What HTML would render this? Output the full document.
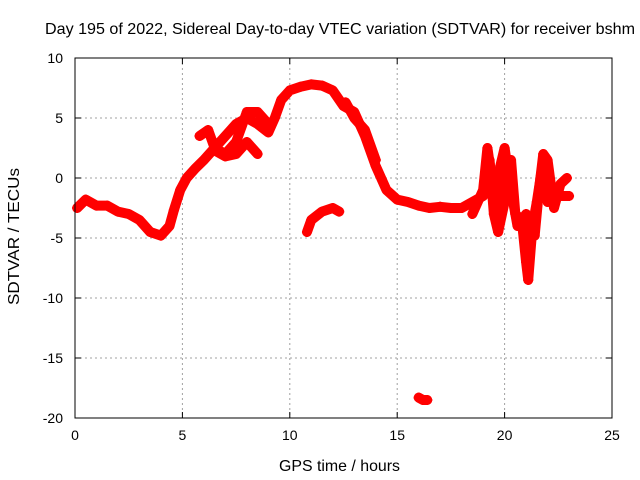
<!DOCTYPE html>
<html><head><meta charset="utf-8"><style>
body{margin:0;background:#fff;}
svg{display:block;font-family:"Liberation Sans",sans-serif;}
</style></head><body>
<svg id="chart" width="640" height="480">
<text x="45" y="34" textLength="590" lengthAdjust="spacingAndGlyphs" font-size="16">Day 195 of 2022, Sidereal Day-to-day VTEC variation (SDTVAR) for receiver bshm</text>
<text x="279" y="471" textLength="121" lengthAdjust="spacingAndGlyphs" font-size="16">GPS time / hours</text>
<text transform="translate(19,305) rotate(-90)" textLength="137" lengthAdjust="spacingAndGlyphs" font-size="16">SDTVAR / TECUs</text>
<g id="grid"></g><g id="marks"></g><g id="axes"></g>
</svg>
<script>
const xTicks=[0,5,10,15,20,25];
const yTicks=[10,5,0,-5,-10,-15,-20];
const mainT=[0.1,0.5,1,1.5,2,2.5,3,3.5,4,4.4,4.6,4.9,5.2,5.6,6,6.5,7,7.5,8,8.5,9,9.3,9.6,10,10.5,11,11.5,12,12.5,13,13.5,14,14.5,15,15.5,16,16.5,17,17.5,18,18.5,19,19.3,19.5,19.7,20,20.3,20.5,20.8,21,21.1,21.3,21.5,21.8,22,22.5,23];
const mainV=[-2.5,-1.8,-2.3,-2.3,-2.8,-3,-3.5,-4.5,-4.8,-4,-2.7,-1,0,0.8,1.5,2.5,3.5,4.5,5,4.5,3.8,5,6.5,7.3,7.6,7.8,7.7,7.3,6,5.5,3.5,1,-1,-1.8,-2,-2.3,-2.5,-2.4,-2.5,-2.5,-2,-1.5,1.5,-3,-4.5,-2,1.5,-3,-3.5,-7,-8.5,-4,-2,1.5,-2,-1.5,-1.5];
const bT=[5.8,6.2,6.5,7,7.5,8,8.5,9];
const bV=[3.5,4,2.5,2,3,5.5,5.5,4.5];
const b2T=[6.5,7,7.5,8,8.5];
const b2V=[2.3,1.8,2,3,2];
const cT=[10.8,11,11.5,12,12.3];
const cV=[-4.5,-3.5,-2.8,-2.5,-2.8];
const dT=[16,16.2,16.4];
const dV=[-18.3,-18.5,-18.5];
const eT=[12.6,13,13.5,14];
const eV=[6.3,5,4,1.5];
const fT=[18.5,19,19.2,19.4,19.6,19.8,20,20.2,20.4,20.6,21,21.4,21.6,21.8,22,22.3,22.6,22.9];
const fV=[-3,-1,2.5,0,-3,1,2.5,0,-2,-4,-3,-4.8,-1,2,1.5,-2.5,-0.5,0];
const L=75,R=612,T=58,B=418;
const X=t=>L+(t-0)/25*(R-L);
const Y=v=>T+(10-v)/30*(B-T);
const NS="http://www.w3.org/2000/svg";
function mk(tag,at,parent){const e=document.createElementNS(NS,tag);for(const k in at)e.setAttribute(k,at[k]);parent.appendChild(e);return e;}
const grid=document.getElementById('grid'),axes=document.getElementById('axes'),marks=document.getElementById('marks');
xTicks.forEach(t=>{
 if(t>0&&t<25){const g=mk('line',{x1:X(t),x2:X(t),y1:T,y2:B,stroke:'#a0a0a0','stroke-dasharray':'2,3'},grid);
 
 }
 mk('line',{x1:X(t),x2:X(t),y1:B,y2:B-6,stroke:'#000'},axes);
 mk('line',{x1:X(t),x2:X(t),y1:T,y2:T+6,stroke:'#000'},axes);
 const tx=mk('text',{x:X(t),y:B+22,'text-anchor':'middle','font-size':14},axes);tx.textContent=t;
 
 
});
yTicks.forEach(v=>{
 if(v>-20&&v<10){const g=mk('line',{x1:L,x2:R,y1:Y(v),y2:Y(v),stroke:'#a0a0a0','stroke-dasharray':'2,3'},grid);
 
 }
 mk('line',{x1:L,x2:L+6,y1:Y(v),y2:Y(v),stroke:'#000'},axes);
 mk('line',{x1:R,x2:R-6,y1:Y(v),y2:Y(v),stroke:'#000'},axes);
 const tx=mk('text',{x:L-12,y:Y(v)+5,'text-anchor':'end','font-size':14},axes);tx.textContent=v;
 
 
});
const frame=mk('rect',{x:L,y:T,width:R-L,height:B-T,fill:'none',stroke:'#000'},axes);


function series(ts,vs,name){
 const pts=ts.map((t,i)=>X(t)+','+Y(vs[i])).join(' ');
 const pl=mk('polyline',{points:pts,fill:'none',stroke:'#f00','stroke-width':10,'stroke-linejoin':'round','stroke-linecap':'round'},marks);
 
 
 ts.forEach((t,i)=>{const x=X(t),y=Y(vs[i]);
  const p=mk('path',{d:`M${x-5},${y}H${x+5}M${x},${y-5}V${y+5}`,stroke:'#f00','stroke-width':2},marks);
  
  });
}
series(mainT,mainV,'main-series');
series(bT,bV,'branch-b-series');
series(b2T,b2V,'branch-b2-series');
series(cT,cV,'branch-c-series');
series(dT,dV,'branch-d-series');
series(eT,eV,'branch-e-series');
series(fT,fV,'branch-f-series');
</script>
</body></html>
